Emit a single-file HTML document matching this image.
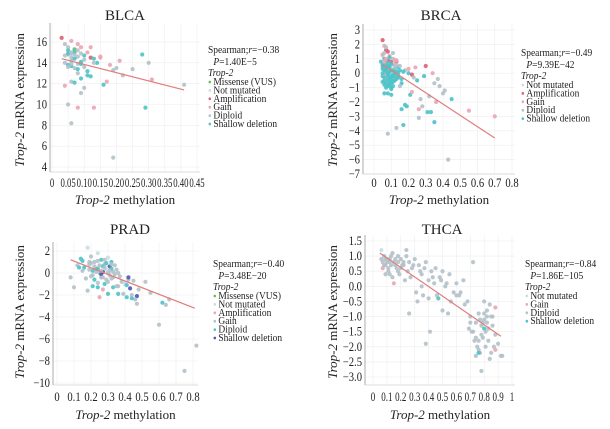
<!DOCTYPE html>
<html><head><meta charset="utf-8">
<style>
body{margin:0;background:#fff;}
svg{display:block;font-family:"Liberation Serif",serif;}
</style></head>
<body>
<svg id="chart" width="610" height="429" viewBox="0 0 610 429" xmlns="http://www.w3.org/2000/svg"></svg>
<script>
// ---------- DATA ----------
const blcaX=[0.03,0.04,0.05,0.06,0.07,0.08,0.05,0.06,0.07,0.09,0.10,0.04,0.05,0.06,0.08,0.09,0.11,0.12,0.07,0.06,0.05,0.08,0.10,0.13,0.14,0.15,0.11,0.09,0.06,0.07,0.12,0.16,0.18,0.20,0.21,0.19,0.22,0.25,0.28,0.30,0.31,0.41,0.29,0.19,0.06,0.05,0.08,0.13,0.09,0.10,0.12,0.15,0.17,0.04,0.07,0.11,0.08,0.06,0.05,0.10,0.13,0.09,0.07,0.04,0.06,0.08,0.07,0.05,0.09,0.06,0.08];
const blcaY=[16.4,15.8,15.5,16.1,15.3,15.8,14.8,14.5,15.0,15.5,14.7,14.0,13.8,14.2,14.6,14.1,15.0,14.5,13.5,13.7,14.9,13.9,13.6,14.4,14.0,14.6,12.8,12.5,12.2,12.1,12.7,11.9,13.8,13.5,14.2,13.3,12.8,13.4,14.8,14.0,12.4,11.9,9.7,4.9,8.2,10.0,9.7,9.7,11.1,11.6,15.5,14.5,12.2,11.8,14.8,13.2,13.0,14.9,15.2,14.3,14.0,13.9,15.1,14.7,15.0,15.2,14.4,13.6,14.9,13.9,13.4];
const blcaC=[2,4,4,3,0,3,4,4,4,3,5,4,5,4,4,5,3,2,4,5,5,4,4,5,5,3,5,5,4,5,5,5,3,4,3,4,4,4,5,4,3,4,5,4,4,4,3,3,4,4,3,3,3,3,4,5,4,4,5,4,4,5,5,4,4,4,5,4,4,4,5];
const brcaX=[0.05,0.06,0.07,0.05,0.06,0.08,0.09,0.10,0.04,0.05,0.07,0.08,0.06,0.09,0.11,0.12,0.13,0.14,0.15,0.05,0.06,0.07,0.08,0.09,0.10,0.11,0.12,0.05,0.06,0.07,0.08,0.10,0.12,0.14,0.16,0.18,0.05,0.07,0.09,0.11,0.13,0.06,0.08,0.10,0.12,0.15,0.17,0.20,0.22,0.24,0.23,0.25,0.27,0.30,0.32,0.35,0.38,0.40,0.36,0.33,0.28,0.26,0.21,0.19,0.17,0.45,0.55,0.70,0.43,0.35,0.31,0.26,0.18,0.13,0.08,0.16,0.22,0.29,0.34,0.37,0.41,0.20,0.10,0.07,0.06,0.09,
  0.05,0.06,0.07,0.08,0.09,0.10,0.11,0.12,0.13,0.14,0.05,0.06,0.07,0.08,0.09,0.10,0.11,0.12,0.13,0.15,0.06,0.07,0.08,0.09,0.10,0.11,0.12,0.14,0.16,0.07,0.08,0.09,0.10,0.11,0.13,0.05,0.06,0.08,0.10,0.12];
const brcaY=[2.3,1.9,1.6,1.2,1.0,1.5,1.2,0.8,0.8,0.5,0.6,0.9,0.2,0.4,1.0,0.6,0.8,0.4,0.5,-0.2,-0.5,0.0,-0.3,-0.6,0.2,-0.2,0.0,0.3,-0.8,-1.0,-0.9,-1.0,-0.5,-0.3,-0.7,0.2,1.3,1.8,1.1,1.4,0.9,-1.4,-1.4,-1.5,-0.2,-0.9,0.1,0.0,-0.1,0.4,-0.3,-0.5,-1.8,0.5,-1.6,-0.7,-0.9,-1.4,-2.0,-2.7,-2.3,-2.5,-1.5,-2.3,-3.6,-1.8,-2.6,-3.0,-6.0,-3.4,-2.7,-3.1,-2.2,-3.8,-4.2,-2.5,-1.3,-0.2,0.0,-0.4,-1.2,0.3,-0.3,0.8,-0.1,0.1,
  0.6,0.4,0.2,0.0,-0.2,-0.4,-0.1,0.3,0.1,-0.2,-0.6,-0.3,-0.7,0.5,0.7,0.6,0.2,-0.5,-0.4,0.2,0.8,0.3,-0.1,-0.8,-0.7,-0.9,0.4,0.0,-0.4,1.0,-0.5,0.1,-0.3,-0.6,0.6,0.0,1.4,0.4,-1.1,0.9];
const brcaC=[2,3,2,1,5,2,3,2,5,5,5,2,5,5,4,3,2,5,4,5,5,5,5,5,5,5,5,5,5,5,5,5,5,5,5,4,3,4,5,4,3,5,5,5,5,4,5,5,2,3,4,5,4,2,4,4,4,4,3,5,4,3,5,5,5,5,3,3,4,5,5,4,5,4,4,5,3,5,3,4,4,3,5,5,3,5,
  5,5,5,5,5,5,5,5,5,5,5,5,5,5,5,5,5,5,5,5,3,5,5,5,5,5,4,5,5,3,5,5,5,5,4,5,4,5,5,3];
const pradX=[0.14,0.18,0.20,0.22,0.24,0.26,0.28,0.30,0.32,0.34,0.16,0.19,0.21,0.23,0.25,0.27,0.29,0.31,0.33,0.35,0.37,0.12,0.15,0.17,0.20,0.22,0.24,0.26,0.28,0.30,0.32,0.36,0.38,0.40,0.42,0.45,0.48,0.52,0.08,0.10,0.13,0.18,0.21,0.24,0.27,0.30,0.33,0.36,0.39,0.41,0.44,0.47,0.27,0.31,0.42,0.43,0.47,0.46,0.55,0.60,0.62,0.64,0.66,0.75,0.82,0.19,0.23,0.26,0.29,0.35,0.41,0.44,0.25,0.15,
  0.20,0.22,0.24,0.26,0.28,0.30,0.32,0.34,0.21,0.23,0.25,0.27,0.29,0.31,0.33,0.19,0.24,0.28,0.32,0.36];
const pradY=[1.3,2.3,1.5,1.0,1.8,1.2,0.8,1.4,1.0,0.7,0.5,0.8,0.2,0.4,0.0,0.6,0.3,-0.2,0.1,0.3,-0.3,0.7,0.2,-0.5,-0.3,-0.6,-0.9,-0.4,-1.0,-0.8,-0.5,-1.2,-0.8,-1.0,-0.6,-0.7,-1.5,-0.8,-0.4,-1.3,0.5,-1.6,-1.2,-1.3,-1.5,-1.9,-1.3,-1.9,-1.9,-1.1,-2.0,-2.8,0.1,0.6,-0.4,-1.4,-2.1,-2.4,-1.8,-4.7,-2.7,-2.9,-2.4,-8.9,-6.6,1.0,0.3,-0.1,-0.6,-1.2,-2.2,-2.3,-2.2,1.1,
  0.9,0.6,0.4,0.2,0.5,0.0,0.4,-0.1,-0.2,0.1,0.7,-0.4,0.9,0.2,-0.4,0.3,1.1,1.2,0.8,0.0];
const pradC=[5,1,4,4,1,5,4,1,5,4,5,4,5,4,4,5,1,4,4,4,4,4,4,4,4,5,4,4,5,4,4,4,4,1,4,4,4,4,4,4,5,4,5,5,3,5,5,5,4,5,4,4,6,6,6,6,6,4,4,4,5,4,4,4,4,4,5,6,4,4,5,5,3,5,
  4,4,5,4,4,4,5,4,4,4,4,4,5,4,4,4,4,4,4,4];
const thcaX=[0.06,0.08,0.10,0.12,0.14,0.16,0.18,0.20,0.22,0.24,0.07,0.09,0.11,0.13,0.15,0.17,0.19,0.21,0.25,0.28,0.30,0.33,0.35,0.38,0.40,0.42,0.45,0.48,0.50,0.52,0.55,0.58,0.60,0.62,0.65,0.68,0.70,0.72,0.74,0.76,0.78,0.80,0.82,0.84,0.86,0.88,0.90,0.92,0.75,0.77,0.79,0.81,0.83,0.85,0.87,0.73,0.71,0.69,0.80,0.82,0.78,0.76,0.74,0.84,0.88,0.93,0.70,0.66,0.63,0.56,0.50,0.46,0.44,0.40,0.36,0.31,0.27,0.23,0.18,0.12,0.09,0.14,0.26,0.35,0.41,0.38,0.32,0.54,0.60,0.72,0.78,0.86,0.88,0.80,0.76,0.47,0.15,0.76,
  0.06,0.07,0.08,0.09,0.10,0.11,0.12,0.13,0.16,0.18,0.20,0.22,0.24,0.26,0.29,0.34,0.37,0.43,0.49,0.53,0.79,0.81,0.83,0.77,0.85,0.80,0.74,0.82];
const thcaY=[1.2,1.0,0.9,0.8,1.1,0.7,1.0,0.9,0.8,1.2,0.6,0.4,0.5,1.0,0.8,0.6,0.4,0.7,0.5,0.6,0.9,0.7,0.4,0.8,0.2,0.5,0.6,0.3,0.5,0.0,0.4,-0.2,0.1,-0.3,0.2,-0.5,-1.0,-1.5,-1.2,-0.9,-1.3,-1.1,-1.0,-0.6,-1.3,-1.6,-1.9,-2.3,-2.0,-2.2,-1.7,-2.0,-1.4,-2.2,-2.0,-1.8,-1.5,-1.4,-0.5,-0.8,-1.6,-2.1,-2.3,-2.4,-2.1,-2.3,-1.2,-0.6,-0.2,-0.5,-0.8,-0.3,0.1,-0.4,-0.3,-0.2,0.3,0.2,0.5,0.4,0.7,0.3,-0.9,0.0,-1.5,-1.9,-0.5,-0.9,-0.3,0.8,-2.8,-1.0,-0.7,-1.4,-1.8,-0.4,0.1,-2.2,
  0.9,0.8,0.7,0.9,0.8,0.6,0.9,0.7,0.9,0.8,0.6,0.7,1.0,0.8,0.7,0.5,0.6,0.3,0.2,0.1,-1.2,-1.5,-1.8,-1.1,-1.0,-0.9,-1.7,-1.2];
const thcaC=[1,4,4,4,4,4,4,4,4,4,3,4,4,4,4,4,4,4,4,4,4,4,4,4,4,4,4,4,4,4,4,4,4,4,4,4,4,4,4,4,4,4,4,4,4,4,4,4,4,4,4,4,4,4,4,4,4,4,4,4,4,4,4,4,3,4,4,4,4,4,4,4,4,4,4,4,4,4,4,4,4,4,4,4,4,4,4,4,4,4,4,4,3,5,4,5,3,5,
  4,4,4,4,4,4,4,4,4,4,4,4,4,4,4,4,4,4,4,4,4,4,4,4,4,4,4,4];
const blcaXTicks=[0,0.05,0.10,0.15,0.20,0.25,0.30,0.35,0.40,0.45];
const blcaXLabels=["0","0.05","0.10","0.15","0.20","0.25","0.30","0.35","0.40","0.45"];
const blcaYTicks=[4,6,8,10,12,14,16];
const brcaXTicks=[0,0.1,0.2,0.3,0.4,0.5,0.6,0.7,0.8];
const brcaYTicks=[3,2,1,0,-1,-2,-3,-4,-5,-6,-7];
const pradXTicks=[0,0.1,0.2,0.3,0.4,0.5,0.6,0.7,0.8];
const pradYTicks=[2,0,-2,-4,-6,-8,-10];
const thcaXTicks=[0,0.1,0.2,0.3,0.4,0.5,0.6,0.7,0.8,0.9,1];
const thcaYTicks=[1.5,1.0,0.5,0.0,-0.5,-1.0,-1.5,-2.0,-2.5,-3.0];
const blcaFit=[0.03,14.4,0.41,11.4];
const brcaFit=[0.05,0.6,0.70,-4.5];
const pradFit=[0.08,1.2,0.81,-3.2];
const thcaFit=[0.05,1.1,0.92,-1.65];
// -----------------------------
const NS="http://www.w3.org/2000/svg";
const svg=document.getElementById('chart');
function mk(tag,attrs,parent){const e=document.createElementNS(NS,tag);for(const k in attrs)e.setAttribute(k,attrs[k]);(parent||svg).appendChild(e);return e;}
const cols={0:"#6cbf5a",1:"#c6dde3",2:"#dc5f72",3:"#eba5b4",4:"#b3c1c9",5:"#4cc3c8",6:"#4a58b4"};
function fmtMinus(s){return String(s).replace('-','\u2212');}

function panel(p){
  const g=mk('g',{});
  
  
  const sx=v=>p.x0+(v-p.xd[0])/(p.xd[1]-p.xd[0])*(p.x1-p.x0);
  const sy=v=>p.y0+(v-p.yd[0])/(p.yd[1]-p.yd[0])*(p.y1-p.y0);
  p.xt.forEach(t=>{const l=mk('line',{x1:sx(t),x2:sx(t),y1:p.top,y2:p.bot,stroke:"#ededed","stroke-width":0.6},g);
    });
  p.yt.forEach(t=>{const l=mk('line',{x1:p.left,x2:p.right,y1:sy(t),y2:sy(t),stroke:"#ededed","stroke-width":0.6},g);
    });
  const ax=mk('line',{x1:p.left,x2:p.left,y1:p.top,y2:p.bot,stroke:"#999","stroke-width":0.8},g);
  
  const bx=mk('line',{x1:p.left,x2:p.right,y1:p.bot,y2:p.bot,stroke:"#bbb","stroke-width":0.6},g);
  
  p.xt.forEach((t,i)=>{const tx=mk('text',{x:0,y:0,"font-size":12.5,"text-anchor":"middle",fill:"#222",transform:`translate(${sx(t)},${p.xly}) scale(${p.xs},1)`},g);
    tx.textContent=p.xl?p.xl[i]:String(t);
    });
  p.yt.forEach(t=>{const tx=mk('text',{x:0,y:0,"font-size":12.5,"text-anchor":"end",fill:"#222",transform:`translate(${p.left-3},${sy(t)+4}) scale(0.85,1)`},g);
    tx.textContent=fmtMinus(p.yfmt?t.toFixed(1):t);
    });
  p.X.forEach((x,i)=>{const c=mk('circle',{cx:sx(x),cy:sy(p.Y[i]),r:2.1,fill:cols[p.C[i]],"fill-opacity":0.9},g);
    });
  const f=mk('line',{x1:sx(p.fit[0]),y1:sy(p.fit[1]),x2:sx(p.fit[2]),y2:sy(p.fit[3]),stroke:"#e07d7d","stroke-width":1.2},g);
  
  const ti=mk('text',{x:p.tx,y:p.ty,"font-size":15,"text-anchor":"middle",fill:"#222"},g);
  ti.textContent=p.name.toUpperCase();
  
  const xt=mk('text',{x:(p.left+p.right)/2,y:p.xty,"font-size":13,"text-anchor":"middle",fill:"#222"},g);
  xt.innerHTML='<tspan font-style="italic">Trop-2</tspan> methylation';
  
  const yt=mk('text',{x:0,y:0,"font-size":13,"text-anchor":"middle",fill:"#222",transform:`translate(${p.ytx},${p.yty}) rotate(-90)`},g);
  yt.innerHTML='<tspan font-style="italic">Trop-2</tspan> mRNA expression';
  
  const lg=mk('g',{transform:`translate(${p.lx},${p.ly}) scale(0.9,1)`},g);
  
  const s=mk('text',{x:0,y:0,"font-size":10.5,fill:"#222"},lg);
  s.innerHTML='Spearman;<tspan font-style="italic">r</tspan>=\u2212'+p.r;
  
  const pv=mk('text',{x:6,y:12,"font-size":10.5,fill:"#222"},lg);
  pv.innerHTML='<tspan font-style="italic">P</tspan>='+p.p;
  
  const lt=mk('text',{x:0,y:23,"font-size":10.5,"font-style":"italic",fill:"#222"},lg);
  lt.textContent='Trop-2';
  
  p.leg.forEach((e,i)=>{const yy=32+i*8.4;
    const d=mk('circle',{cx:2,cy:yy-3,r:1.4,fill:cols[e[1]]},lg);
    
    const t=mk('text',{x:6,y:yy,"font-size":10.5,fill:"#222"},lg);t.textContent=e[0];
    });
}
panel({name:'blca',X:blcaX,Y:blcaY,C:blcaC,xt:blcaXTicks,xl:blcaXLabels,yt:blcaYTicks,fit:blcaFit,xs:0.7,
  xd:[0,0.45],x0:52,x1:197,yd:[16,4],y0:42,y1:167,left:50,right:200,top:23,bot:172,xly:187,xty:204,ytx:24,yty:100,tx:125,ty:20,
  lx:208,ly:53,r:'0.38',p:'1.40E\u22125',leg:[['Missense (VUS)',0],['Not mutated',1],['Amplification',2],['Gain',3],['Diploid',4],['Shallow deletion',5]]});
panel({name:'brca',X:brcaX,Y:brcaY,C:brcaC,xt:brcaXTicks,yt:brcaYTicks,fit:brcaFit,xs:0.85,
  xd:[0,0.8],x0:374,x1:512,yd:[3,-7],y0:30,y1:174,left:363,right:515,top:24,bot:174,xly:187,xty:204,ytx:337,yty:100,tx:441,ty:20,
  lx:521,ly:56,r:'0.49',p:'9.39E\u221242',leg:[['Not mutated',1],['Amplification',2],['Gain',3],['Diploid',4],['Shallow deletion',5]]});
panel({name:'prad',X:pradX,Y:pradY,C:pradC,xt:pradXTicks,yt:pradYTicks,fit:pradFit,xs:0.85,
  xd:[0,0.8],x0:57,x1:193,yd:[2,-10],y0:251,y1:383,left:53,right:198,top:242,bot:385,xly:401,xty:419,ytx:24,yty:312,tx:130,ty:234,
  lx:213,ly:267,r:'0.40',p:'3.48E\u221220',leg:[['Missense (VUS)',0],['Not mutated',1],['Amplification',3],['Gain',4],['Diploid',5],['Shallow deletion',6]]});
panel({name:'thca',X:thcaX,Y:thcaY,C:thcaC,xt:thcaXTicks,yt:thcaYTicks,fit:thcaFit,yfmt:true,xs:0.72,
  xd:[0,1],x0:373,x1:512,yd:[1.5,-3],y0:241,y1:377,left:365,right:515,top:235,bot:385,xly:401,xty:419,ytx:337,yty:312,tx:442,ty:234,
  lx:525,ly:267,r:'0.84',p:'1.86E\u2212105',leg:[['Not mutated',1],['Gain',3],['Diploid',4],['Shallow deletion',5]]});
</script>
</body></html>
